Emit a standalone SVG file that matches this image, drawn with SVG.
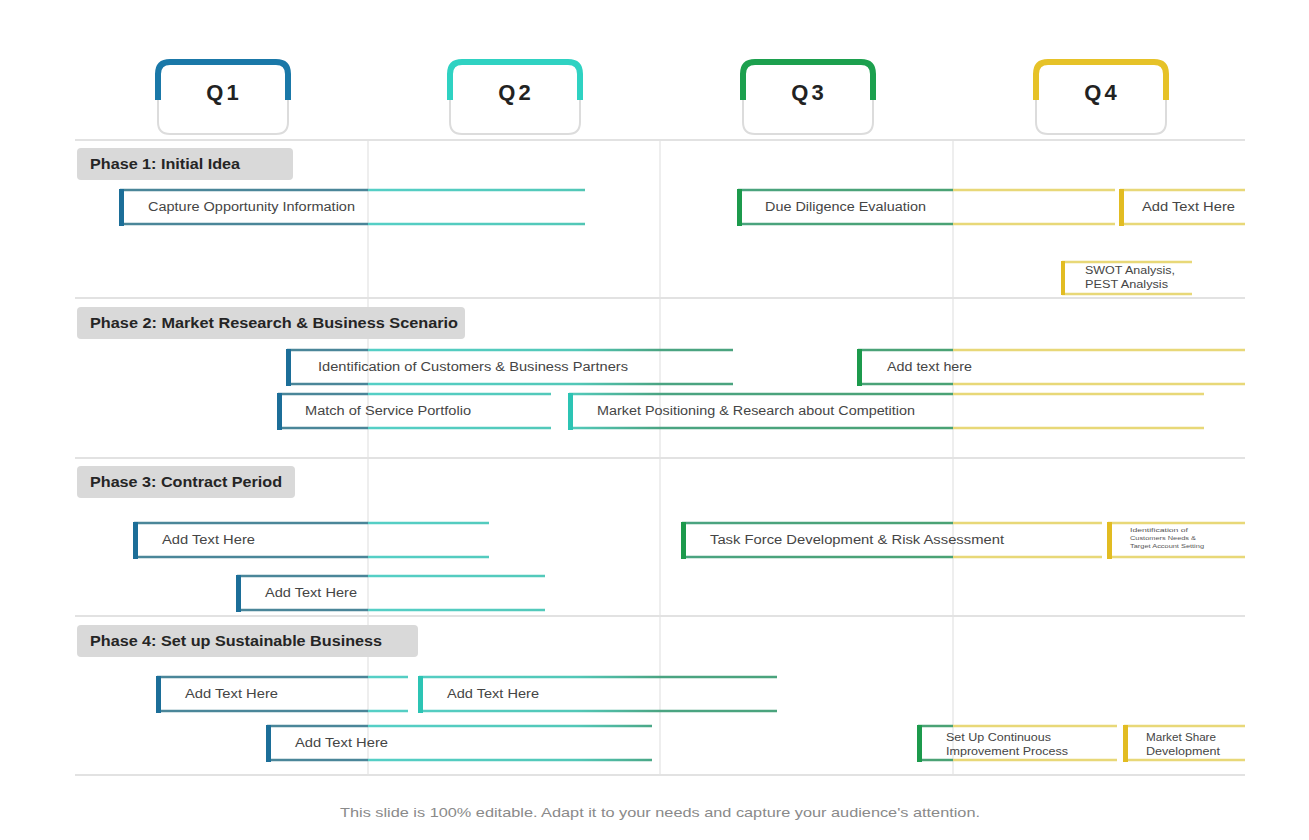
<svg xmlns="http://www.w3.org/2000/svg" width="1309" height="840" viewBox="0 0 1309 840">
<defs>
<linearGradient id="lg" gradientUnits="userSpaceOnUse" x1="0" y1="0" x2="1309" y2="0">
<stop offset="0.20" stop-color="#4a8699"/>
<stop offset="0.281" stop-color="#4a8699"/>
<stop offset="0.281" stop-color="#55cfc6"/>
<stop offset="0.44" stop-color="#52c8b8"/>
<stop offset="0.504" stop-color="#4aa482"/>
<stop offset="0.728" stop-color="#4aa274"/>
<stop offset="0.728" stop-color="#e8d878"/>
<stop offset="1" stop-color="#e8d878"/>
</linearGradient>
<style>
.grid{stroke:#e8e8e8;stroke-width:1.5;fill:none}
.sep{stroke:#e2e2e2;stroke-width:2;fill:none}
.tabb{fill:none;stroke:#dcdcdc;stroke-width:2}
.tabt{fill:none;stroke-width:6}
.qt{font-family:"Liberation Sans",Arial,sans-serif;font-weight:bold;font-size:22px;fill:#222;text-anchor:middle;letter-spacing:3px}
.ph{fill:#d9d9d9}
.pt{font-family:"Liberation Sans",Arial,sans-serif;font-weight:bold;font-size:14px;fill:#252525}
.ln{stroke:url(#lg);stroke-width:2.5;fill:none}
.t{font-family:"Liberation Sans",Arial,sans-serif;font-size:12.5px;fill:#454545}
.ts{font-family:"Liberation Sans",Arial,sans-serif;font-size:10px;fill:#454545}
.tx{font-family:"Liberation Sans",Arial,sans-serif;font-size:6px;fill:#555}
.c1{fill:#1c6e98}.c2{fill:#2cc4b4}.c3{fill:#1c9a4c}.c4{fill:#e2bc22}
.ft{font-family:"Liberation Sans",Arial,sans-serif;font-size:13px;fill:#8a8a8a}
</style>
</defs>
<rect width="1309" height="840" fill="#ffffff"/>
<g id="grid">
<line class="grid" x1="368" y1="140" x2="368" y2="775"/>
<line class="grid" x1="660" y1="140" x2="660" y2="775"/>
<line class="grid" x1="953" y1="140" x2="953" y2="775"/>
<line class="sep" x1="75" y1="140" x2="1245" y2="140"/>
<line class="sep" x1="75" y1="298" x2="1245" y2="298"/>
<line class="sep" x1="75" y1="458" x2="1245" y2="458"/>
<line class="sep" x1="75" y1="616" x2="1245" y2="616"/>
<line class="sep" x1="75" y1="775" x2="1245" y2="775"/>
</g>
<g id="q1">
<path class="tabb" d="M158,100 V122 Q158,134 170,134 H276 Q288,134 288,122 V100"/>
<path class="tabt" stroke="#1a78a8" d="M158,100 V74 Q158,62 170,62 H276 Q288,62 288,74 V100"/>
<text class="qt" x="224" y="100">Q1</text>
</g>
<g id="q2">
<path class="tabb" d="M450,100 V122 Q450,134 462,134 H568 Q580,134 580,122 V100"/>
<path class="tabt" stroke="#2fd2c2" d="M450,100 V74 Q450,62 462,62 H568 Q580,62 580,74 V100"/>
<text class="qt" x="516" y="100">Q2</text>
</g>
<g id="q3">
<path class="tabb" d="M743,100 V122 Q743,134 755,134 H861 Q873,134 873,122 V100"/>
<path class="tabt" stroke="#1ca04e" d="M743,100 V74 Q743,62 755,62 H861 Q873,62 873,74 V100"/>
<text class="qt" x="809" y="100">Q3</text>
</g>
<g id="q4">
<path class="tabb" d="M1036,100 V122 Q1036,134 1048,134 H1154 Q1166,134 1166,122 V100"/>
<path class="tabt" stroke="#e6c228" d="M1036,100 V74 Q1036,62 1048,62 H1154 Q1166,62 1166,74 V100"/>
<text class="qt" x="1102" y="100">Q4</text>
</g>
<g id="phase1">
<rect class="ph" x="77" y="148" width="216" height="32" rx="4"/>
<text class="pt" x="90" y="169" textLength="150" lengthAdjust="spacingAndGlyphs">Phase 1: Initial Idea</text>
</g>
<g id="phase2">
<rect class="ph" x="77" y="307" width="388" height="32" rx="4"/>
<text class="pt" x="90" y="328" textLength="368" lengthAdjust="spacingAndGlyphs">Phase 2: Market Research &amp; Business  Scenario</text>
</g>
<g id="phase3">
<rect class="ph" x="77" y="466" width="218" height="32" rx="4"/>
<text class="pt" x="90" y="487" textLength="192" lengthAdjust="spacingAndGlyphs">Phase 3: Contract Period</text>
</g>
<g id="phase4">
<rect class="ph" x="77" y="625" width="341" height="32" rx="4"/>
<text class="pt" x="90" y="646" textLength="292" lengthAdjust="spacingAndGlyphs">Phase 4: Set up  Sustainable Business</text>
</g>
<g id="b1"><line class="ln" x1="120" y1="190" x2="585" y2="190"/><line class="ln" x1="120" y1="224" x2="585" y2="224"/><rect class="c1" x="119" y="189" width="5" height="37"/><text class="t" x="148" y="211" textLength="207" lengthAdjust="spacingAndGlyphs">Capture Opportunity Information</text></g>
<g id="b2"><line class="ln" x1="738" y1="190" x2="1115" y2="190"/><line class="ln" x1="738" y1="224" x2="1115" y2="224"/><rect class="c3" x="737" y="189" width="5" height="37"/><text class="t" x="765" y="211" textLength="161" lengthAdjust="spacingAndGlyphs">Due Diligence Evaluation</text></g>
<g id="b3"><line class="ln" x1="1120" y1="190" x2="1245" y2="190"/><line class="ln" x1="1120" y1="224" x2="1245" y2="224"/><rect class="c4" x="1119" y="189" width="5" height="37"/><text class="t" x="1142" y="211" textLength="93" lengthAdjust="spacingAndGlyphs">Add Text Here</text></g>
<g id="b4"><line class="ln" x1="1062" y1="262" x2="1192" y2="262"/><line class="ln" x1="1062" y1="294" x2="1192" y2="294"/><rect class="c4" x="1061" y="261" width="4" height="34"/><text class="ts" x="1085" y="274" textLength="90" lengthAdjust="spacingAndGlyphs">SWOT Analysis,</text><text class="ts" x="1085" y="288" textLength="83" lengthAdjust="spacingAndGlyphs">PEST Analysis</text></g>
<g id="b5"><line class="ln" x1="287" y1="350" x2="733" y2="350"/><line class="ln" x1="287" y1="384" x2="733" y2="384"/><rect class="c1" x="286" y="349" width="5" height="37"/><text class="t" x="318" y="371" textLength="310" lengthAdjust="spacingAndGlyphs">Identification of Customers &amp; Business Partners</text></g>
<g id="b6"><line class="ln" x1="858" y1="350" x2="1245" y2="350"/><line class="ln" x1="858" y1="384" x2="1245" y2="384"/><rect class="c3" x="857" y="349" width="5" height="37"/><text class="t" x="887" y="371" textLength="85" lengthAdjust="spacingAndGlyphs">Add text here</text></g>
<g id="b7"><line class="ln" x1="278" y1="394" x2="551" y2="394"/><line class="ln" x1="278" y1="428" x2="551" y2="428"/><rect class="c1" x="277" y="393" width="5" height="37"/><text class="t" x="305" y="415" textLength="166" lengthAdjust="spacingAndGlyphs">Match of Service Portfolio</text></g>
<g id="b8"><line class="ln" x1="569" y1="394" x2="1204" y2="394"/><line class="ln" x1="569" y1="428" x2="1204" y2="428"/><rect class="c2" x="568" y="393" width="5" height="37"/><text class="t" x="597" y="415" textLength="318" lengthAdjust="spacingAndGlyphs">Market Positioning  &amp; Research about Competition</text></g>
<g id="b9"><line class="ln" x1="134" y1="523" x2="489" y2="523"/><line class="ln" x1="134" y1="557" x2="489" y2="557"/><rect class="c1" x="133" y="522" width="5" height="37"/><text class="t" x="162" y="544" textLength="93" lengthAdjust="spacingAndGlyphs">Add Text Here</text></g>
<g id="b10"><line class="ln" x1="682" y1="523" x2="1102" y2="523"/><line class="ln" x1="682" y1="557" x2="1102" y2="557"/><rect class="c3" x="681" y="522" width="5" height="37"/><text class="t" x="710" y="544" textLength="294" lengthAdjust="spacingAndGlyphs">Task Force Development  &amp; Risk Assessment</text></g>
<g id="b11"><line class="ln" x1="1108" y1="523" x2="1245" y2="523"/><line class="ln" x1="1108" y1="557" x2="1245" y2="557"/><rect class="c4" x="1107" y="522" width="5" height="37"/><text class="tx" x="1130" y="532" textLength="58" lengthAdjust="spacingAndGlyphs">Identification of</text><text class="tx" x="1130" y="540" textLength="66" lengthAdjust="spacingAndGlyphs">Customers Needs &amp;</text><text class="tx" x="1130" y="548" textLength="74" lengthAdjust="spacingAndGlyphs">Target Account Setting</text></g>
<g id="b12"><line class="ln" x1="237" y1="576" x2="545" y2="576"/><line class="ln" x1="237" y1="610" x2="545" y2="610"/><rect class="c1" x="236" y="575" width="5" height="37"/><text class="t" x="265" y="597" textLength="92" lengthAdjust="spacingAndGlyphs">Add Text Here</text></g>
<g id="b13"><line class="ln" x1="157" y1="677" x2="408" y2="677"/><line class="ln" x1="157" y1="711" x2="408" y2="711"/><rect class="c1" x="156" y="676" width="5" height="37"/><text class="t" x="185" y="698" textLength="93" lengthAdjust="spacingAndGlyphs">Add Text Here</text></g>
<g id="b14"><line class="ln" x1="419" y1="677" x2="777" y2="677"/><line class="ln" x1="419" y1="711" x2="777" y2="711"/><rect class="c2" x="418" y="676" width="5" height="37"/><text class="t" x="447" y="698" textLength="92" lengthAdjust="spacingAndGlyphs">Add Text Here</text></g>
<g id="b15"><line class="ln" x1="267" y1="726" x2="652" y2="726"/><line class="ln" x1="267" y1="760" x2="652" y2="760"/><rect class="c1" x="266" y="725" width="5" height="37"/><text class="t" x="295" y="747" textLength="93" lengthAdjust="spacingAndGlyphs">Add Text Here</text></g>
<g id="b16"><line class="ln" x1="918" y1="726" x2="1117" y2="726"/><line class="ln" x1="918" y1="760" x2="1117" y2="760"/><rect class="c3" x="917" y="725" width="5" height="37"/><text class="ts" x="946" y="741" textLength="105" lengthAdjust="spacingAndGlyphs">Set Up Continuous</text><text class="ts" x="946" y="755" textLength="122" lengthAdjust="spacingAndGlyphs">Improvement Process</text></g>
<g id="b17"><line class="ln" x1="1124" y1="726" x2="1245" y2="726"/><line class="ln" x1="1124" y1="760" x2="1245" y2="760"/><rect class="c4" x="1123" y="725" width="5" height="37"/><text class="ts" x="1146" y="741" textLength="70" lengthAdjust="spacingAndGlyphs">Market Share</text><text class="ts" x="1146" y="755" textLength="74" lengthAdjust="spacingAndGlyphs">Development</text></g>
<text class="ft" x="340" y="817" textLength="640" lengthAdjust="spacingAndGlyphs">This slide is 100% editable. Adapt it to your needs and capture your audience's attention.</text>
</svg>
